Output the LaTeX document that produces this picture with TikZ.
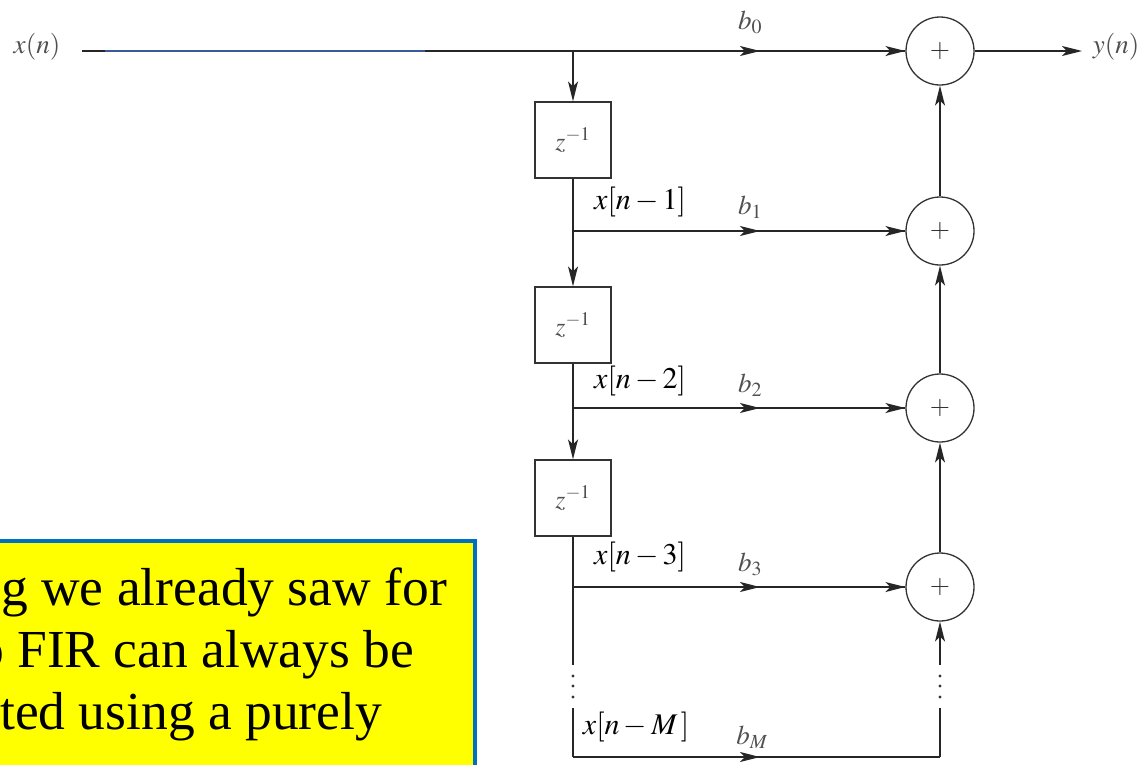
\documentclass[tikz,border=0pt]{standalone}
\usepackage{mathptmx}
\usepackage{fontspec}
\setmainfont{Liberation Serif}
\usetikzlibrary{arrows.meta}
\definecolor{lblgray}{HTML}{505050}
\definecolor{boxblue}{HTML}{0070C0}
\definecolor{wireblue}{HTML}{3A5A99}
\definecolor{noteyellow}{HTML}{FFFF00}
\tikzset{
  wire/.style={line width=1.6pt,black!85},
  arr/.style={wire,-{Stealth[length=20pt,width=10pt,inset=5pt]}},
  delay/.style={draw,line width=1.3pt,black!80,minimum size=76pt,inner sep=0pt},
  adder/.style={circle,draw,line width=1.3pt,black!80,minimum size=68pt,inner sep=0pt},
  lbl/.style={font=\fontsize{27}{29}\selectfont,text=lblgray},
  tap/.style={font=\fontsize{30}{32}\selectfont},
  note/.style={font=\fontsize{53.5}{62}\selectfont,anchor=base west,inner sep=0pt}
}
\begin{document}
\begin{tikzpicture}[x=1pt,y=-1pt]
\useasboundingbox (0,0) rectangle (1140,764);
\clip (0,0) rectangle (1140,764);
% delays and adders
\node[delay] (d1) at (573,140) {\color{lblgray}\fontsize{26}{28}\selectfont$z^{-1}$};
\node[delay] (d2) at (573,325) {\color{lblgray}\fontsize{26}{28}\selectfont$z^{-1}$};
\node[delay] (d3) at (573,498) {\color{lblgray}\fontsize{26}{28}\selectfont$z^{-1}$};
\node[adder] (s0) at (940,51) {\fontsize{26}{28}\selectfont$+$};
\node[adder] (s1) at (940,231) {\fontsize{26}{28}\selectfont$+$};
\node[adder] (s2) at (940,408) {\fontsize{26}{28}\selectfont$+$};
\node[adder] (s3) at (940,587) {\fontsize{26}{28}\selectfont$+$};
% taps
\coordinate (xs) at (82,51);
\coordinate (j0) at (573,51);
\coordinate (j1) at (573,231);
\coordinate (j2) at (573,408);
\coordinate (j3) at (573,587);
\coordinate (jM) at (573,757);
\coordinate (lend) at (573,665);
\coordinate (lbeg) at (573,708);
\coordinate (rbeg) at (940,665);
\coordinate (rend) at (940,708);
\coordinate (cM) at (940,757);
\coordinate (m0) at (760,51);
\coordinate (m1) at (760,231);
\coordinate (m2) at (760,408);
\coordinate (m3) at (760,587);
\coordinate (mM) at (760,757);
\coordinate (yo) at (1082,51);
% input line
\draw[wire] (xs) -- (s0);
\draw[line width=1.6pt,wireblue] (105,51) -- (425,51);
\draw[arr] (j0) -- (m0);
\draw[arr] (m0) -- (s0);
\draw[arr] (s0) -- (yo);
% delay chain
\draw[arr] (j0) -- (d1);
\draw[arr] (d1) -- (d2);
\draw[arr] (d2) -- (d3);
\draw[wire] (d3) -- (lend);
\draw[wire] (lbeg) -- (jM);
% branches
\draw[wire] (j1) -- (s1);
\draw[arr] (j1) -- (m1);
\draw[arr] (m1) -- (s1);
\draw[wire] (j2) -- (s2);
\draw[arr] (j2) -- (m2);
\draw[arr] (m2) -- (s2);
\draw[wire] (j3) -- (s3);
\draw[arr] (j3) -- (m3);
\draw[arr] (m3) -- (s3);
\draw[wire] (jM) -- (cM);
\draw[arr] (jM) -- (mM);
% adder chain
\draw[arr] (s1) -- (s0);
\draw[arr] (s2) -- (s1);
\draw[arr] (s3) -- (s2);
\draw[arr] (rbeg) -- (s3);
\draw[wire] (cM) -- (rend);
% dots
\foreach \yy in {676,686,697} {
  \fill[black!80] (573,\yy) circle (1.6pt);
  \fill[black!80] (940,\yy) circle (1.6pt);
}
% labels
\node[lbl] (xin) at (37,47) {$x(n)$};
\node[lbl] (yout) at (1116,47) {$y(n)$};
\node[lbl] (b0) at (750,22) {$b_0$};
\node[lbl] (b1) at (750,207) {$b_1$};
\node[lbl] (b2) at (750,385) {$b_2$};
\node[lbl] (b3) at (750,564) {$b_3$};
\node[lbl] (bM) at (752,737) {$b_M$};
\node[tap] (x1) at (640,202) {$x[n-1]$};
\node[tap] (x2) at (640,381) {$x[n-2]$};
\node[tap] (x3) at (640,557) {$x[n-3]$};
\node[tap] (xM) at (636,727) {$x[n-M\,]$};
% note box
\draw[line width=4pt,boxblue,fill=noteyellow] (-20,541) rectangle (475,800);
\node[note] (n1) at (1,605) {g we already saw for};
\node[note] (n2) at (-23,667) {o FIR can always be};
\node[note] (n3) at (0,729) {ted using a purely};
\end{tikzpicture}
\end{document}
